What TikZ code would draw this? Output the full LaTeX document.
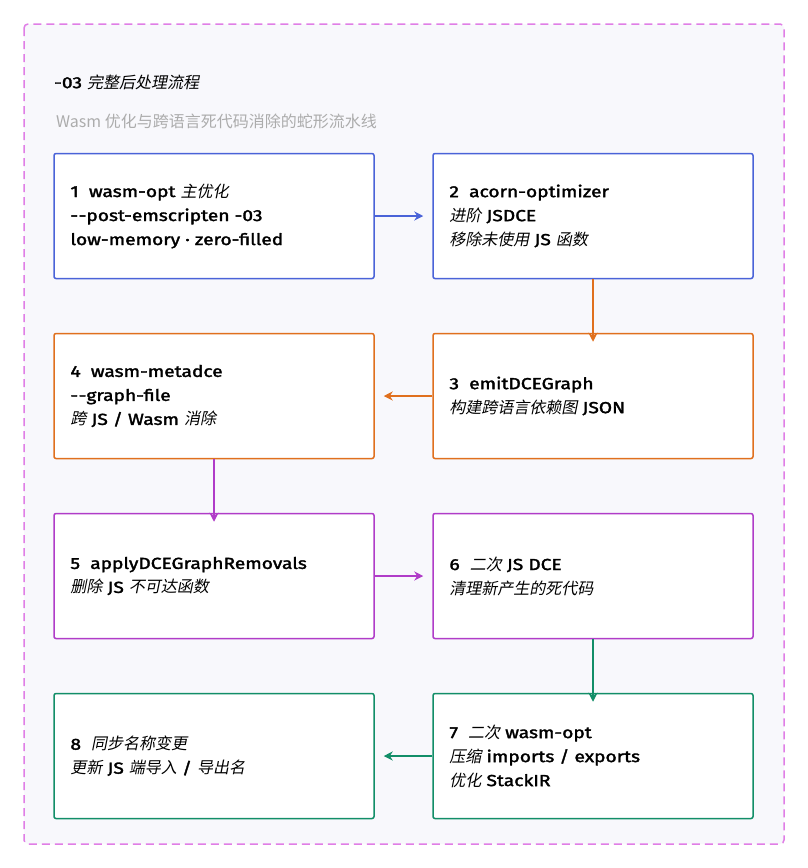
\documentclass[tikz,border=0pt]{standalone}
\usepackage{fontspec}
\setmainfont{Fira Sans}[FakeBold=2,FakeStretch=1.2]
\newfontfamily\zhf{Noto Sans CJK SC}[FakeSlant=0.2]
\newfontfamily\zhup{Noto Sans CJK SC}
\newcommand{\zh}[1]{{\zhf #1}}
\newcommand{\dd}{-\kern0.5pt-}
\usetikzlibrary{arrows.meta}
\definecolor{cblue}{HTML}{4A63D8}
\definecolor{corange}{HTML}{E0701E}
\definecolor{cpurple}{HTML}{B03CC8}
\definecolor{cgreen}{HTML}{128E68}
\definecolor{cpink}{HTML}{E07EE6}
\definecolor{cbg}{HTML}{F8F8FC}
\begin{document}
\begin{tikzpicture}[x=1pt,y=-1pt,
 box/.style={draw=#1,line width=1.5pt,fill=white,rounded corners=2pt,minimum width=320pt,minimum height=125pt,inner sep=0},
 txt/.style={anchor=west,align=left,font=\fontsize{16}{24}\selectfont,inner sep=0},
 arr/.style={draw=#1,line width=2.3pt,-{Stealth[length=9pt,width=9pt]}}]
\useasboundingbox (0,0) rectangle (808,868);
\fill[white] (0,0) rectangle (808,868);
\draw[cpink,line width=1.5pt,dash pattern=on 8pt off 5pt,fill=cbg,rounded corners=4pt] (24,24) rectangle (784,844);
\node[anchor=west,inner sep=0,font=\fontsize{16}{18}\selectfont] (title) at (54,82) {-03 \zh{完整后处理流程}};
\node[anchor=west,inner sep=0,text=gray!65,font=\fontsize{16}{18}\selectfont] (sub) at (56,121) {{\zhup Wasm 优化与跨语言死代码消除的蛇形流水线}};
\node[box=cblue] (b1) at (214,216) {};
\node[box=cblue] (b2) at (593,216) {};
\node[box=corange] (b4) at (214,396) {};
\node[box=corange] (b3) at (593,396) {};
\node[box=cpurple] (b5) at (214,576) {};
\node[box=cpurple] (b6) at (593,576) {};
\node[box=cgreen] (b8) at (214,756) {};
\node[box=cgreen] (b7) at (593,756) {};
\node[txt] (t1) at ([xshift=17pt]b1.west) {1\ \ wasm-opt \zh{主优化}\\\dd post-emscripten -03\\low-memory · zero-filled};
\node[txt] (t2) at ([xshift=17pt]b2.west) {2\ \ acorn-optimizer\\\zh{进阶} JSDCE\\\zh{移除未使用} JS \zh{函数}};
\node[txt] (t3) at ([xshift=17pt]b3.west) {3\ \ emitDCEGraph\\\zh{构建跨语言依赖图} JSON};
\node[txt] (t4) at ([xshift=17pt]b4.west) {4\ \ wasm-metadce\\\dd graph-file\\\zh{跨} JS / Wasm \zh{消除}};
\node[txt] (t5) at ([xshift=17pt]b5.west) {5\ \ applyDCEGraphRemovals\\\zh{删除} JS \zh{不可达函数}};
\node[txt] (t6) at ([xshift=17pt]b6.west) {6\ \ \zh{二次} JS DCE\\\zh{清理新产生的死代码}};
\node[txt] (t7) at ([xshift=17pt]b7.west) {7\ \ \zh{二次} wasm-opt\\\zh{压缩} imports / exports\\\zh{优化} StackIR};
\node[txt] (t8) at ([xshift=17pt]b8.west) {8\ \ \zh{同步名称变更}\\\zh{更新} JS \zh{端导入} / \zh{导出名}};
\draw[arr=cblue] (b1.east) -- ([xshift=-9pt]b2.west);
\draw[arr=corange] (b2.south) -- ([yshift=-9pt]b3.north);
\draw[arr=corange] (b3.west) -- ([xshift=9pt]b4.east);
\draw[arr=cpurple] (b4.south) -- ([yshift=-9pt]b5.north);
\draw[arr=cpurple] (b5.east) -- ([xshift=-9pt]b6.west);
\draw[arr=cgreen] (b6.south) -- ([yshift=-9pt]b7.north);
\draw[arr=cgreen] (b7.west) -- ([xshift=9pt]b8.east);
\end{tikzpicture}
\end{document}
